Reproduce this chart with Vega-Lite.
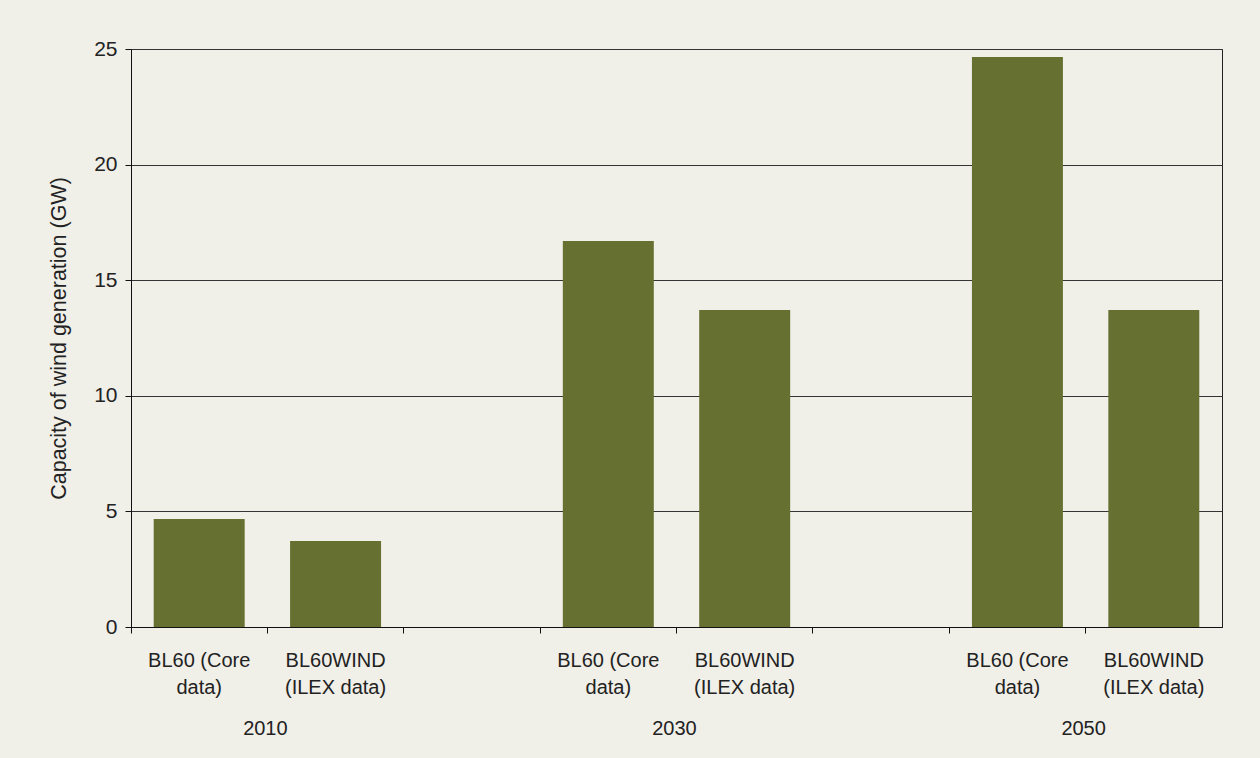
{
  "$schema": "https://vega.github.io/schema/vega-lite/v6.json",
  "width": 1091,
  "height": 578,
  "autosize": {"type": "none"},
  "padding": {"left": 131, "top": 49, "right": 38, "bottom": 131},
  "background": "#f0efe8",
  "config": {
    "font": "Liberation Sans",
    "view": {"stroke": "#222222", "strokeWidth": 1},
    "axis": {
      "labelFont": "Liberation Sans",
      "titleFont": "Liberation Sans",
      "labelColor": "#222222",
      "titleColor": "#222222"
    }
  },
  "data": {
    "values": [
      {"key": "2010 core", "year": "2010", "scenario": "BL60 (Core data)", "value": 4.67},
      {"key": "2010 ilex", "year": "2010", "scenario": "BL60WIND (ILEX data)", "value": 3.72},
      {"key": "2030 core", "year": "2030", "scenario": "BL60 (Core data)", "value": 16.7},
      {"key": "2030 ilex", "year": "2030", "scenario": "BL60WIND (ILEX data)", "value": 13.71},
      {"key": "2050 core", "year": "2050", "scenario": "BL60 (Core data)", "value": 24.65},
      {"key": "2050 ilex", "year": "2050", "scenario": "BL60WIND (ILEX data)", "value": 13.71}
    ]
  },
  "encoding": {
    "x": {
      "field": "key",
      "type": "nominal",
      "scale": {
        "domain": ["2010 core", "2010 ilex", "gap1", "2030 core", "2030 ilex", "gap2", "2050 core", "2050 ilex"],
        "paddingInner": 0,
        "paddingOuter": 0
      },
      "axis": {
        "title": null,
        "bandPosition": 0,
        "tickSize": 6,
        "tickColor": "#111111",
        "domainColor": "#111111",
        "labelAngle": 0,
        "labelFontSize": 20,
        "labelBaseline": "top",
        "labelPadding": 17,
        "labelLineHeight": 27,
        "labelExpr": "indexof(datum.value, 'core') >= 0 ? ['BL60 (Core', 'data)'] : (indexof(datum.value, 'ilex') >= 0 ? ['BL60WIND', '(ILEX data)'] : '')"
      }
    }
  },
  "layer": [
    {
      "mark": {"type": "bar", "color": "#667030", "width": {"band": 0.667}},
      "encoding": {
        "y": {
          "field": "value",
          "type": "quantitative",
          "scale": {"domain": [0, 25], "nice": false},
          "axis": {
            "values": [0, 5, 10, 15, 20, 25],
            "grid": true,
            "gridColor": "#333333",
            "gridWidth": 1,
            "gridOpacity": 1,
            "tickSize": 6,
            "tickColor": "#111111",
            "domainColor": "#111111",
            "labelFontSize": 21,
            "labelPadding": 8,
            "title": "Capacity of wind generation (GW)",
            "titleFontSize": 21.5,
            "titleFontWeight": "normal",
            "titleAngle": 270,
            "titleAlign": "center",
            "titleBaseline": "alphabetic",
            "titleX": -66,
            "titleY": 289
          }
        }
      }
    },
    {
      "transform": [{"filter": "indexof(datum.key, 'ilex') >= 0"}],
      "mark": {"type": "text", "fontSize": 20, "color": "#222222", "baseline": "alphabetic", "align": "center", "dy": 108, "dx": -2},
      "encoding": {
        "x": {"field": "key", "type": "nominal", "bandPosition": 0},
        "y": {"datum": 0},
        "text": {"field": "year"}
      }
    }
  ]
}
